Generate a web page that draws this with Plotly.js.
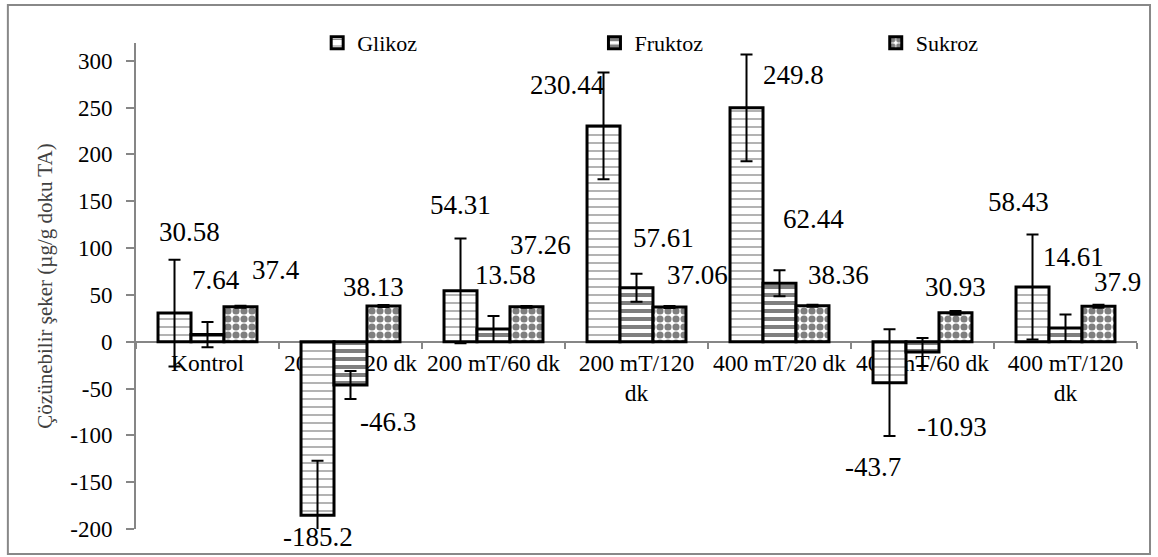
<!DOCTYPE html>
<html>
<head>
<meta charset="utf-8">
<script src="https://cdn.plot.ly/plotly-3.0.1.min.js"></script>
<style>html,body{margin:0;padding:0;background:#fff;}#chart{width:1158px;height:557px;}</style>
</head>
<body>
<div id="chart"></div>
<script>
// ---- data ----
const categories = ["Kontrol", "200 mT/20 dk", "200 mT/60 dk", "200 mT/120<br>dk", "400 mT/20 dk", "400 mT/60 dk", "400 mT/120<br>dk"];
const seriesNames = ["Glikoz", "Fruktoz", "Sukroz"];
const glikoz = [30.58, -185.2, 54.31, 230.44, 249.8, -43.7, 58.43];
const fruktoz = [7.64, -46.3, 13.58, 57.61, 62.44, -10.93, 14.61];
const sukroz = [37.4, 38.13, 37.26, 37.06, 38.36, 30.93, 37.9];
const glikozErr = [57, 58, 56, 57, 57, 57, 56];
const fruktozErr = [13.5, 15, 14, 15, 14, 15, 14.5];
const sukrozErr = [1, 1, 1, 1, 1, 2, 1.5];
const yTicks = [-200, -150, -100, -50, 0, 50, 100, 150, 200, 250, 300];
const yRange = [-200, 319];

// ---- label offsets (pixels from category centre / value) ----
const labelDx = [
  [-18.5, -32.5, -33.5, -69.5, 13.5, -49.5, -47.5],
  [8.5, 37.5, 11.5, 26.5, 33.5, 29.5, 7.5],
  [68.5, 22.5, 46.5, 60.5, 58.5, 32.5, 51.5]
];
const labelDy = [
  [-81, 22, -86, -41, -33, 84, -85],
  [-55, 37, -54, -50, -64, 75, -71],
  [-37, -19, -62, -32, -31, -26, -24]
];
const legendX = [0.181, 0.458, 0.739];

const values = [glikoz, fruktoz, sukroz];
const errs = [glikozErr, fruktozErr, sukrozErr];
const patterns = [
  {shape: "-", fgcolor: "#000", bgcolor: "#fff", size: 8, solidity: 0.15, fillmode: "overlay"},
  {shape: "-", fgcolor: "#000", bgcolor: "#fff", size: 8, solidity: 0.5, fillmode: "overlay"},
  {shape: ".", fgcolor: "#000", bgcolor: "#fff", size: 8, solidity: 0.62, fillmode: "overlay"}
];

const FONT = "Liberation Serif";
const legendIds = ["legend", "legend2", "legend3"];

const traces = seriesNames.map((n, i) => ({
  type: "bar",
  name: n,
  legend: legendIds[i],
  x: categories,
  y: values[i],
  marker: {color: "#fff", line: {color: "#000", width: 3}, pattern: patterns[i]},
  error_y: {type: "data", array: errs[i], visible: true, color: "#000", thickness: 2, width: 6},
  hoverinfo: "skip"
}));

const annotations = [];
values.forEach((vals, s) => {
  vals.forEach((v, c) => {
    annotations.push({
      x: categories[c], y: v, xref: "x", yref: "y",
      text: String(v), showarrow: false,
      xanchor: "center", yanchor: "middle",
      xshift: labelDx[s][c], yshift: -labelDy[s][c],
      font: {family: FONT, size: 27, color: "#000"}
    });
  });
});

const zeroPos = (0 - yRange[0]) / (yRange[1] - yRange[0]);

const layout = {
  width: 1158, height: 557,
  margin: {l: 136, r: 21, t: 43, b: 28},
  paper_bgcolor: "#fff", plot_bgcolor: "#fff",
  barmode: "group", bargap: 0.308, bargroupgap: 0,
  font: {family: FONT, size: 21, color: "#000"},
  showlegend: true,
  xaxis: {
    type: "category", range: [-0.5, 6.5],
    anchor: "free", position: zeroPos,
    showline: true, linecolor: "#868686", linewidth: 2,
    ticks: "outside", tickson: "boundaries", ticklen: 6, tickcolor: "#868686", tickwidth: 2,
    tickangle: 0,
    showgrid: false, zeroline: false, layer: "below traces",
    tickfont: {family: FONT, size: 23.5, color: "#000"}
  },
  yaxis: {
    range: yRange, tickvals: yTicks, ticktext: yTicks.map(String),
    showline: true, linecolor: "#868686", linewidth: 2,
    ticks: "outside", ticklen: 8, tickcolor: "#868686", tickwidth: 2,
    ticklabelstandoff: 9,
    showgrid: false, zeroline: false, layer: "below traces",
    tickfont: {family: FONT, size: 23, color: "#000"},
    title: {text: "Çözünebilir şeker (µg/g doku TA)", font: {family: FONT, size: 21, color: "#404040"}, standoff: 12}
  },
  annotations: annotations,
  shapes: [{
    type: "rect", xref: "paper", yref: "paper",
    x0: -0.128, x1: 1.013, y0: -0.0514, y1: 1.078,
    line: {color: "#888", width: 2}, fillcolor: "rgba(0,0,0,0)", layer: "below"
  }]
};
legendIds.forEach((id, i) => {
  layout[id] = {
    orientation: "h", x: legendX[i], xanchor: "left", y: 1.0, yanchor: "middle",
    font: {family: FONT, size: 22, color: "#000"},
    bgcolor: "rgba(0,0,0,0)", itemwidth: 30, tracegroupgap: 0
  };
});

Plotly.newPlot("chart", traces, layout, {displayModeBar: false, staticPlot: true});
</script>
</body>
</html>
